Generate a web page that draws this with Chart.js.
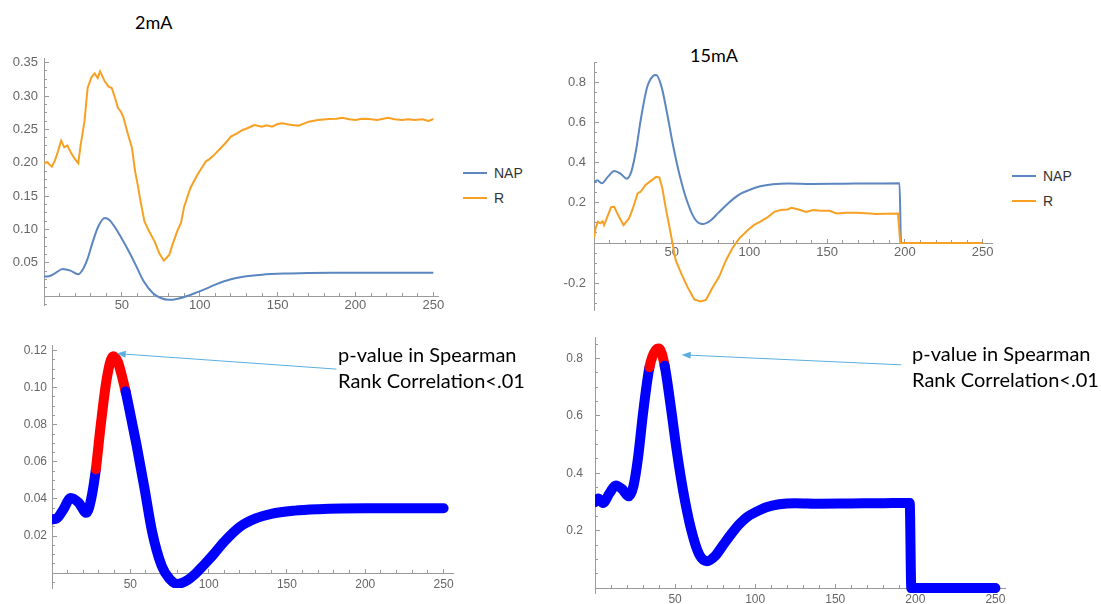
<!DOCTYPE html>
<html>
<head>
<meta charset="utf-8">
<script src="https://cdn.jsdelivr.net/npm/chart.js@4.4.1/dist/chart.umd.min.js"></script>
<style>
  body { margin: 0; background: #fff; width: 1101px; height: 604px; position: relative; overflow: hidden; font-family: Lato, "Open Sans", sans-serif; }
  canvas { position: absolute; }
  .title { position: absolute; font-size: 18px; line-height: 22px; color: #000; }
  .note { position: absolute; font-size: 20px; line-height: 26px; color: #000; white-space: nowrap; }
  .legend { position: absolute; font-family: "Liberation Sans", Arial, sans-serif; font-size: 14px; color: #333; }
  .legend div { height: 25px; display: flex; align-items: center; }
  .legend span { display: inline-block; width: 24px; height: 2px; margin-right: 7px; }
</style>
</head>
<body>
<div class="title" style="left:135px; top:11px;">2mA</div>
<div class="title" style="left:690px; top:44px;">15mA</div>

<canvas id="c2top" width="450" height="265" style="left:0; top:50px;"></canvas>
<canvas id="c15top" width="452" height="270" style="left:550px; top:52px;"></canvas>
<canvas id="c2bot" width="465" height="274" style="left:0; top:330px;"></canvas>
<canvas id="c15bot" width="465" height="274" style="left:550px; top:330px;"></canvas>

<div class="legend" style="left:463px; top:160px;">
  <div><span style="background:#5b86c0"></span>NAP</div>
  <div><span style="background:#f8a023"></span>R</div>
</div>
<div class="legend" style="left:1012px; top:163px;">
  <div><span style="background:#5b86c0"></span>NAP</div>
  <div><span style="background:#f8a023"></span>R</div>
</div>

<div class="note" style="left:338px; top:341px;">p-value in Spearman<br>Rank Correlation&lt;.01</div>
<div class="note" style="left:912px; top:340px;">p-value in Spearman<br>Rank Correlation&lt;.01</div>

<script>
// NAP, 2mA  [time, value]
const nap2mA = [
  [0, 0.029], [3, 0.0295], [7, 0.034], [12, 0.0405], [17, 0.038], [22, 0.0325],
  [25, 0.040], [28, 0.056], [31, 0.079], [35, 0.105], [39, 0.117], [42, 0.114],
  [45, 0.105], [47, 0.098], [49, 0.090], [54, 0.069], [59, 0.046], [64, 0.022],
  [70, 0.004], [75, -0.003], [80, -0.0058], [86, -0.004], [92, 0.000], [97, 0.0045],
  [103, 0.010], [110, 0.017], [120, 0.025], [130, 0.0295], [140, 0.032], [155, 0.0337],
  [170, 0.0345], [185, 0.0349], [200, 0.035], [225, 0.035], [250, 0.035]
];

// R, 2mA
const r2mA = [
  [0, 0.199], [2, 0.201], [4, 0.196], [5, 0.194], [7, 0.203], [9, 0.217], [11, 0.233],
  [13, 0.223], [15, 0.226], [17.5, 0.214], [20, 0.205], [22, 0.199], [23.5, 0.226],
  [26, 0.262], [28, 0.312], [30.5, 0.328], [32.5, 0.334], [34.5, 0.327], [36, 0.337],
  [39, 0.322], [41.5, 0.314], [43.5, 0.312], [45.5, 0.298], [47.5, 0.282], [49.5, 0.276],
  [51, 0.268], [52, 0.259], [54, 0.242], [56.5, 0.222], [58.5, 0.187], [60, 0.169],
  [62, 0.142], [64.5, 0.112], [67.5, 0.097], [71, 0.082], [74, 0.064], [77, 0.053],
  [80.5, 0.062], [82.5, 0.077], [85.5, 0.097], [88, 0.110], [90, 0.134], [92, 0.148],
  [94, 0.162], [98.5, 0.182], [104, 0.202], [106, 0.205], [109, 0.211], [113.5, 0.222],
  [116, 0.228], [120, 0.239], [124, 0.244], [127.5, 0.249], [131, 0.252], [135, 0.2565],
  [140, 0.254], [143, 0.256], [146.5, 0.254], [150, 0.258], [153, 0.259], [158, 0.257],
  [163.5, 0.2555], [170, 0.2615], [176, 0.264], [183, 0.2655], [188, 0.266], [191.5, 0.2675],
  [196, 0.265], [200, 0.264], [204, 0.266], [208.5, 0.2655], [214, 0.264], [221, 0.2675],
  [225, 0.265], [230, 0.264], [234, 0.265], [238, 0.264], [243, 0.265], [247, 0.2625],
  [250, 0.2655]
];

// NAP, 15mA
const nap15mA = [
  [0, 0.300], [2, 0.312], [5, 0.297], [9, 0.330], [13, 0.358], [17, 0.345], [21, 0.320],
  [24, 0.355], [27, 0.460], [30, 0.610], [34, 0.770], [38, 0.830], [40, 0.835],
  [43.5, 0.775], [47, 0.645], [51, 0.480], [55, 0.340], [60, 0.205], [65, 0.118],
  [70, 0.094], [75, 0.112], [80, 0.150], [85, 0.188], [90, 0.222], [95, 0.248],
  [100, 0.264], [107, 0.282], [115, 0.292], [125, 0.296], [140, 0.294], [160, 0.295],
  [180, 0.296], [196.5, 0.297], [197.5, 0], [250, 0]
];

// R, 15mA
const r15mA = [
  [0, 0.025], [1, 0.073], [2.5, 0.106], [4, 0.098], [5.5, 0.108], [6.5, 0.089], [9, 0.139],
  [11, 0.178], [13, 0.180], [15.5, 0.139], [19, 0.089], [22.5, 0.122], [25, 0.172],
  [28, 0.247], [30, 0.255], [33, 0.288], [36.5, 0.309], [40, 0.329], [42, 0.326],
  [44, 0.271], [46, 0.180], [48.5, 0.081], [50.5, -0.002], [52.5, -0.084], [56, -0.150],
  [60, -0.217], [64.5, -0.280], [68.5, -0.291], [72, -0.283], [76, -0.225], [80.5, -0.167],
  [85, -0.084], [89, -0.026], [93.5, 0.023], [99, 0.065], [103, 0.090], [107, 0.106],
  [112, 0.130], [116, 0.155], [120, 0.164], [124.5, 0.167], [127, 0.175], [131, 0.168],
  [136.5, 0.155], [141, 0.164], [146, 0.160], [151.5, 0.160], [156, 0.147], [162, 0.150],
  [169, 0.151], [175, 0.148], [181.5, 0.144], [188, 0.146], [195.5, 0.147], [197, 0],
  [250, 0]
];

// time windows where p < .01 (drawn red)
const sig2mA = [28, 47];
const sig15mA = [34, 43.5];

// annotation arrows [time, value]
const arrow2mA = { from: [181.6, 0.110], to: [41.3, 0.1184] };
const arrow15mA = { from: [191.2, 0.778], to: [54.1, 0.813] };

const BLUE = '#5b86c0';
const ORANGE = '#f8a023';
const AXIS = '#9a9a9a';
const LABEL = '#666';

const pts = arr => arr.map(p => ({ x: p[0], y: p[1] }));

const arrowPlugin = {
  id: 'arrow',
  afterDraw(chart, args, opts) {
    if (!opts.from) return;
    const { ctx, scales: { x, y } } = chart;
    const x1 = x.getPixelForValue(opts.from[0]), y1 = y.getPixelForValue(opts.from[1]);
    const x2 = x.getPixelForValue(opts.to[0]), y2 = y.getPixelForValue(opts.to[1]);
    const a = Math.atan2(y2 - y1, x2 - x1), L = 9, W = 3.5;
    ctx.save();
    ctx.strokeStyle = opts.color;
    ctx.fillStyle = opts.color;
    ctx.lineWidth = 1;
    ctx.beginPath();
    ctx.moveTo(x1, y1);
    ctx.lineTo(x2 - 4 * Math.cos(a), y2 - 4 * Math.sin(a));
    ctx.stroke();
    ctx.beginPath();
    ctx.moveTo(x2, y2);
    ctx.lineTo(x2 - L * Math.cos(a) + W * Math.sin(a), y2 - L * Math.sin(a) - W * Math.cos(a));
    ctx.lineTo(x2 - L * Math.cos(a) - W * Math.sin(a), y2 - L * Math.sin(a) + W * Math.cos(a));
    ctx.closePath();
    ctx.fill();
    ctx.restore();
  }
};

// scales must not push the plot area in; canvas padding does the placing
const noPad = s => { s.paddingLeft = 0; s.paddingRight = 0; s.paddingTop = 0; s.paddingBottom = 0; };

// Mathematica-like axes: crossing at the origin, long major ticks, short minor ticks
function buildScales(o) {
  const font = { family: 'Liberation Sans', size: o.font };
  return {
    x: {
      type: 'linear', min: 0, max: o.xMax, position: { y: 0 },
      afterFit: noPad,
      border: { color: AXIS, width: 1 },
      grid: { drawOnChartArea: false, tickLength: -5, tickColor: AXIS },
      ticks: { stepSize: 50, includeBounds: false, autoSkip: false, maxRotation: 0,
               color: LABEL, font, padding: o.xPad,
               callback: v => (v === 0 ? '' : String(v)) }
    },
    xm: {
      type: 'linear', min: 0, max: o.xMax, position: { y: 0 },
      afterFit: noPad,
      border: { display: false },
      grid: { drawOnChartArea: false, tickLength: -3, tickColor: AXIS },
      ticks: { stepSize: 10, includeBounds: false, display: false }
    },
    y: {
      type: 'linear', min: o.yMin, max: o.yMax, position: 'left',
      afterFit: s => { noPad(s); s.width = o.yWidth; },
      border: { color: AXIS, width: 1 },
      grid: { drawOnChartArea: false, tickLength: -5, tickColor: AXIS },
      ticks: { stepSize: o.yStep, includeBounds: false, color: LABEL, font, padding: o.yPad,
               callback: v => (Math.abs(v) < 1e-9 ? '' : v.toFixed(o.digits)) }
    },
    ym: {
      type: 'linear', min: o.yMin, max: o.yMax, position: { x: 0 },
      afterFit: noPad,
      border: { display: false },
      grid: { drawOnChartArea: false, tickLength: -3, tickColor: AXIS },
      ticks: { stepSize: o.yMinor, includeBounds: false, display: false }
    }
  };
}

function baseOptions(padding, scales, arrow) {
  return {
    responsive: false,
    animation: false,
    events: [],
    layout: { padding },
    plugins: { legend: { display: false }, tooltip: { enabled: false }, arrow: arrow || {} },
    scales
  };
}

// top left: 2mA NAP and R
new Chart(document.getElementById('c2top'), {
  type: 'line',
  data: {
    datasets: [
      { label: 'NAP', data: pts(nap2mA), borderColor: BLUE, borderWidth: 2, pointRadius: 0,
        cubicInterpolationMode: 'monotone', xAxisID: 'x', yAxisID: 'y', order: 1 },
      { label: 'R', data: pts(r2mA), borderColor: ORANGE, borderWidth: 2, pointRadius: 0,
        tension: 0, xAxisID: 'x', yAxisID: 'y', order: 0 }
    ]
  },
  options: baseOptions({ left: 0, top: 8, right: 12, bottom: 10 },
    buildScales({ xMax: 253, yMin: -0.0135, yMax: 0.357, yStep: 0.05, yMinor: 0.0125,
                  digits: 2, font: 13, yWidth: 44, yPad: 11, xPad: 7 }))
});

// top right: 15mA NAP and R
new Chart(document.getElementById('c15top'), {
  type: 'line',
  data: {
    datasets: [
      { label: 'NAP', data: pts(nap15mA), borderColor: BLUE, borderWidth: 2, pointRadius: 0,
        cubicInterpolationMode: 'monotone', xAxisID: 'x', yAxisID: 'y', order: 1 },
      { label: 'R', data: pts(r15mA), borderColor: ORANGE, borderWidth: 2, pointRadius: 0,
        tension: 0, xAxisID: 'x', yAxisID: 'y', order: 0 }
    ]
  },
  options: baseOptions({ left: 0, top: 10, right: 10, bottom: 12 },
    buildScales({ xMax: 256, yMin: -0.333, yMax: 0.9, yStep: 0.2, yMinor: 0.05,
                  digits: 1, font: 13, yWidth: 44, yPad: 13, xPad: 7 }))
});

function sigSegment(range) {
  const inside = v => v >= range[0] && v <= range[1];
  return { borderColor: c => (inside(c.p0.parsed.x) && inside(c.p1.parsed.x) ? '#ff0000' : undefined) };
}

// bottom left: 2mA NAP, significant part in red
new Chart(document.getElementById('c2bot'), {
  type: 'line',
  data: {
    datasets: [
      { label: 'NAP', data: pts(nap2mA), borderColor: '#0000ff', borderWidth: 10, pointRadius: 0,
        borderCapStyle: 'round', borderJoinStyle: 'round',
        cubicInterpolationMode: 'monotone', segment: sigSegment(sig2mA), xAxisID: 'x', yAxisID: 'y' }
    ]
  },
  options: baseOptions({ left: 0, top: 15, right: 12, bottom: 16 },
    buildScales({ xMax: 256, yMin: -0.008, yMax: 0.123, yStep: 0.02, yMinor: 0.005,
                  digits: 2, font: 12, yWidth: 52, yPad: 10, xPad: 9 }),
    Object.assign({ color: '#5aaee0' }, arrow2mA)),
  plugins: [arrowPlugin]
});

// bottom right: 15mA NAP, significant part in red
new Chart(document.getElementById('c15bot'), {
  type: 'line',
  data: {
    datasets: [
      { label: 'NAP', data: pts(nap15mA), borderColor: '#0000ff', borderWidth: 10, pointRadius: 0,
        borderCapStyle: 'round', borderJoinStyle: 'round',
        cubicInterpolationMode: 'monotone', segment: sigSegment(sig15mA), xAxisID: 'x', yAxisID: 'y' }
    ]
  },
  options: baseOptions({ left: 0, top: 7, right: 10, bottom: 11 },
    buildScales({ xMax: 256, yMin: -0.017, yMax: 0.875, yStep: 0.2, yMinor: 0.05,
                  digits: 1, font: 12, yWidth: 45, yPad: 17, xPad: 9 }),
    Object.assign({ color: '#5aaee0' }, arrow15mA)),
  plugins: [arrowPlugin]
});
</script>
</body>
</html>
